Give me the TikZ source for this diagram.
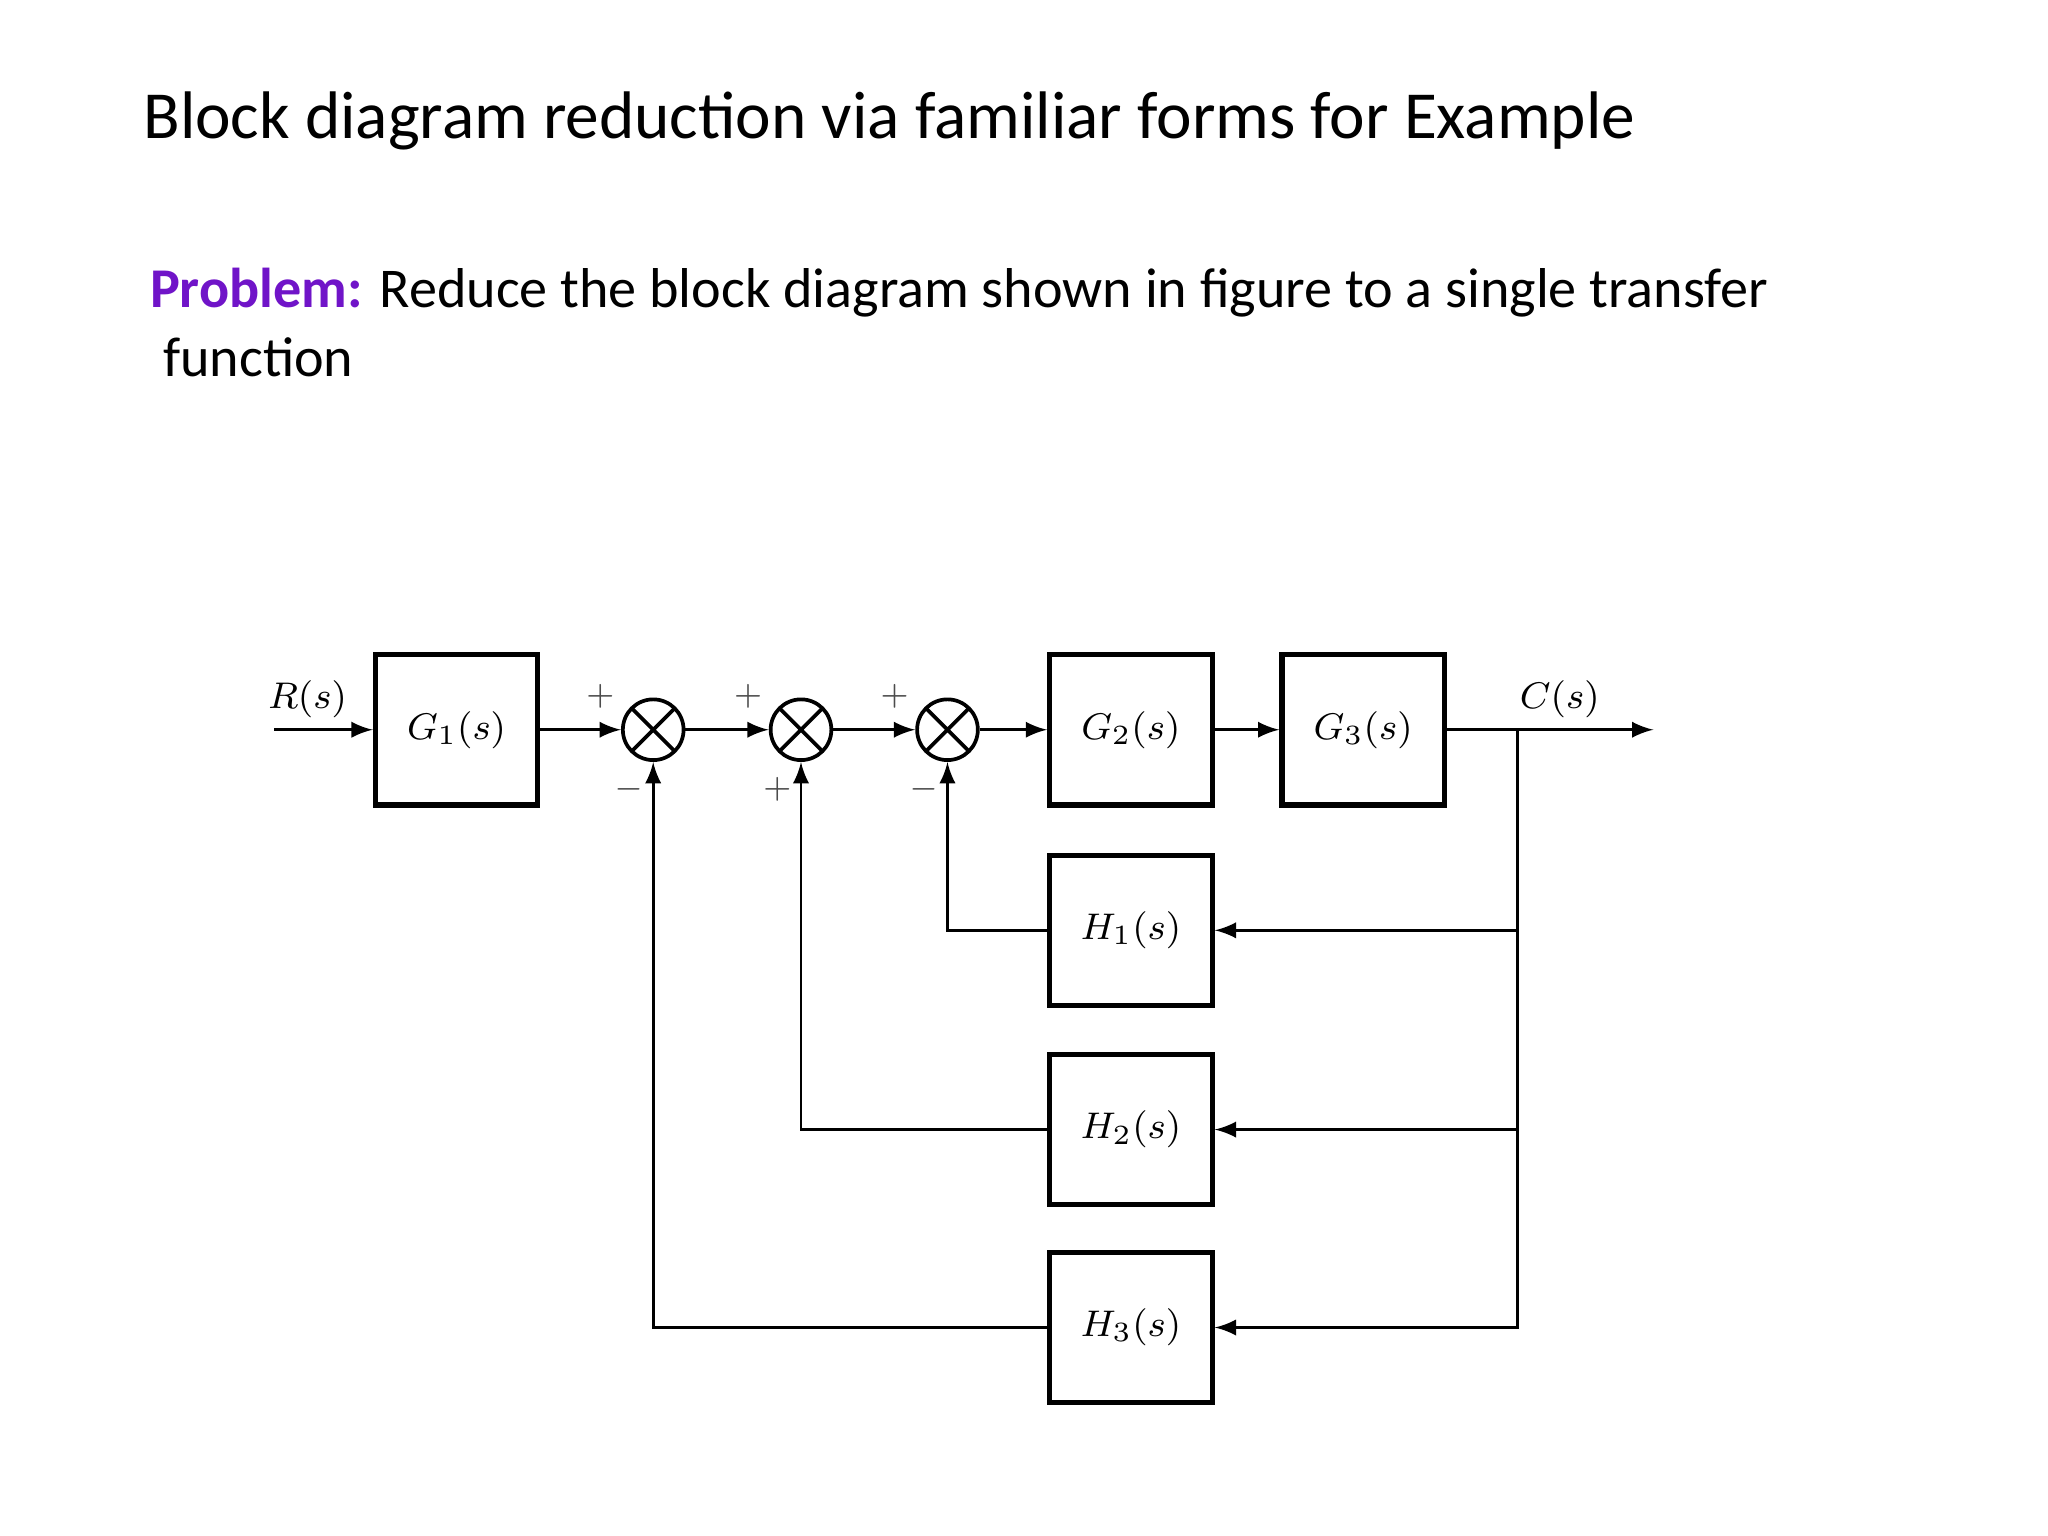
\documentclass[tikz,border=0pt]{standalone}
\usepackage{fontspec}
\setmainfont{Carlito}
\usetikzlibrary{arrows,positioning}
\definecolor{probcol}{RGB}{112,20,200}
\tikzset{
  block/.style={draw,line width=1.1pt,minimum width=1.23cm,minimum height=1.14cm,inner sep=0pt,font=\fontsize{8}{9}\selectfont},
  sumjn/.style={draw,circle,line width=0.8pt,minimum size=0.46cm,inner sep=0pt,
    path picture={\draw[line width=0.8pt] (path picture bounding box.north west) -- (path picture bounding box.south east)
      (path picture bounding box.north east) -- (path picture bounding box.south west);}},
  sig/.style={-latex,line width=0.6pt},
  lbl/.style={font=\fontsize{8}{9}\selectfont},
  sgn/.style={font=\fontsize{7}{8}\selectfont\rmfamily,text=black!70}
}
\begin{document}
\begin{tikzpicture}[x=0.01cm,y=-0.01cm]
\useasboundingbox (0,0) rectangle (1552,1164);
\node[anchor=base west,inner sep=0pt,font=\fontsize{14.5}{18}\selectfont] (title) at (108,105) {Block diagram reduction via familiar forms for Example};
\node[anchor=base west,inner sep=0pt,font=\fontsize{12.1}{15}\selectfont] (prob) at (113,233) {\textcolor{probcol}{\textbf{Problem:}} Reduce the block diagram shown in figure to a single transfer};
\node[anchor=base west,inner sep=0pt,font=\fontsize{12.1}{15}\selectfont] (prob2) at (123,285) {function};
% forward path
\coordinate (in) at (208,553);
\node[block] (g1) at (346,553) {$G_1(s)$};
\node[sumjn] (s1) at (495,553) {};
\node[sumjn] (s2) at (607,553) {};
\node[sumjn] (s3) at (718,553) {};
\node[block] (g2) at (857,553) {$G_2(s)$};
\node[block] (g3) at (1033,553) {$G_3(s)$};
\coordinate (br) at (1150,553);
\coordinate (out) at (1253,553);
% feedback blocks
\node[block] (h1) at (857,705) {$H_1(s)$};
\node[block] (h2) at (857,856) {$H_2(s)$};
\node[block] (h3) at (857,1006) {$H_3(s)$};
\node[lbl] (rs) at (233,530) {$R(s)$};
\node[lbl] (cs) at (1182,530) {$C(s)$};
\draw[sig] (in) -- (g1);
\draw[sig] (g1) -- (s1);
\draw[sig] (s1) -- (s2);
\draw[sig] (s2) -- (s3);
\draw[sig] (s3) -- (g2);
\draw[sig] (g2) -- (g3);
\draw[sig] (g3) -- (out);
\draw[sig] (br) |- (h1);
\draw[sig] (br) |- (h2);
\draw[sig] (br) |- (h3);
\draw[sig] (h1) -| (s3);
\draw[sig] (h2) -| (s2);
\draw[sig] (h3) -| (s1);
% signs
\foreach \s/\a/\b in {s1/+/-,s2/+/+,s3/+/-}{
  \node[sgn] at ([shift={(-40,-25)}]\s.center) {$\a$};
  \node[sgn] at ([shift={(-18,45)}]\s.center) {$\b$};
}
\end{tikzpicture}
\end{document}
